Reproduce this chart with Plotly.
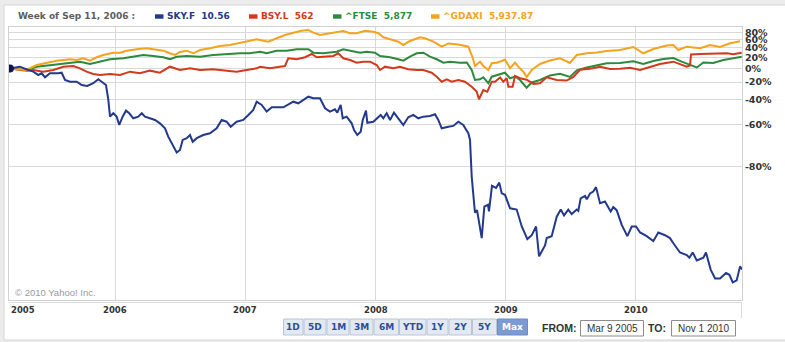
import plotly.graph_objects as go

# ---------------- data (time in decimal years, value = % change since Mar 9 2005) -------------
sky_t = [2005.188, 2005.265, 2005.329, 2005.368, 2005.406, 2005.432, 2005.458, 2005.496, 2005.56, 2005.586,
         2005.612, 2005.65, 2005.702, 2005.74, 2005.783, 2005.829, 2005.868, 2005.894, 2005.927, 2005.945,
         2005.958, 2005.983, 2006.009, 2006.029, 2006.055, 2006.081, 2006.106, 2006.137, 2006.175, 2006.202,
         2006.227, 2006.265, 2006.304, 2006.342, 2006.381, 2006.406, 2006.445, 2006.471, 2006.496, 2006.517,
         2006.548, 2006.573, 2006.594, 2006.625, 2006.675, 2006.727, 2006.778, 2006.817, 2006.855, 2006.886,
         2006.932, 2006.983, 2007.022, 2007.06, 2007.086, 2007.125, 2007.163, 2007.202, 2007.291, 2007.329,
         2007.368, 2007.406, 2007.445, 2007.483, 2007.522, 2007.573, 2007.612, 2007.65, 2007.688, 2007.706,
         2007.732, 2007.748, 2007.778, 2007.817, 2007.835, 2007.86, 2007.886, 2007.902, 2007.927, 2007.937,
         2007.983, 2008.009, 2008.04, 2008.06, 2008.086, 2008.112, 2008.142, 2008.175, 2008.214, 2008.252,
         2008.291, 2008.329, 2008.368, 2008.419, 2008.458, 2008.483, 2008.509, 2008.56, 2008.598, 2008.637,
         2008.675, 2008.714, 2008.727, 2008.74, 2008.765, 2008.781, 2008.817, 2008.837, 2008.865, 2008.873,
         2008.896, 2008.927, 2008.952, 2008.971, 2008.996, 2009.035, 2009.086, 2009.125, 2009.168, 2009.202,
         2009.235, 2009.258, 2009.304, 2009.317, 2009.355, 2009.394, 2009.425, 2009.45, 2009.483, 2009.509,
         2009.548, 2009.56, 2009.578, 2009.612, 2009.625, 2009.65, 2009.675, 2009.696, 2009.727, 2009.765,
         2009.809, 2009.829, 2009.855, 2009.894, 2009.937, 2009.971, 2010.004, 2010.035, 2010.086, 2010.137,
         2010.175, 2010.227, 2010.265, 2010.291, 2010.342, 2010.394, 2010.414, 2010.44, 2010.471, 2010.522,
         2010.542, 2010.578, 2010.612, 2010.65, 2010.696, 2010.722, 2010.748, 2010.778, 2010.804, 2010.819]
sky_pct = [0, 3.0, -2.4, -5.1, -10.1, -7.6, -13.4, -7.6, -7.6, -6.7,
           -17.2, -19.5, -19.5, -23.7, -24.9, -21.5, -16.2, -19.5, -23.7, -40.3,
           -54.6, -52.0, -54.6, -60.4, -54.6, -49.9, -52.0, -55.8, -54.6, -52.0,
           -54.6, -55.8, -57.0, -59.3, -62.5, -67.3, -72.3, -74.8, -73.7, -69.0,
           -68.1, -66.4, -69.9, -68.1, -66.4, -65.4, -62.5, -57.0, -58.2, -61.5,
           -58.2, -57.0, -53.3, -49.3, -42.0, -45.0, -50.7, -47.1, -47.1, -45.0,
           -42.0, -43.5, -40.3, -37.0, -38.6, -38.6, -47.9, -50.7, -48.8, -51.5,
           -45.0, -55.8, -54.6, -59.3, -63.5, -66.4, -64.5, -57.0, -49.9, -58.9,
           -58.2, -55.8, -53.3, -55.8, -52.0, -57.0, -51.5, -55.8, -60.4, -55.1,
           -53.3, -55.8, -54.6, -54.1, -52.8, -57.0, -62.5, -61.5, -61.0, -58.2,
           -60.4, -65.4, -69.0, -83.0, -90.6, -90.2, -93.8, -89.6, -89.3, -90.4,
           -85.4, -85.9, -84.6, -87.1, -87.4, -89.9, -90.1, -92.5, -93.9, -93.5,
           -92.5, -95.4, -94.5, -93.8, -93.6, -91.2, -90.1, -91.0, -90.1, -90.8,
           -90.1, -90.3, -88.1, -87.6, -88.3, -87.1, -86.7, -85.7, -89.0, -88.7,
           -90.4, -89.7, -90.2, -92.3, -93.6, -92.5, -92.5, -93.2, -93.6, -94.1,
           -93.2, -93.5, -93.8, -94.3, -95.1, -95.3, -95.5, -95.1, -95.7, -95.5,
           -95.1, -96.3, -96.8, -96.8, -96.5, -96.6, -97.0, -96.9, -96.1, -96.3]

bsy_t = [2005.188, 2005.317, 2005.368, 2005.445, 2005.522, 2005.598, 2005.675, 2005.727, 2005.778, 2005.829,
         2005.881, 2005.958, 2006.035, 2006.112, 2006.188, 2006.265, 2006.342, 2006.419, 2006.496, 2006.573,
         2006.65, 2006.752, 2006.855, 2006.932, 2007.009, 2007.086, 2007.112, 2007.188, 2007.265, 2007.304,
         2007.329, 2007.394, 2007.458, 2007.509, 2007.548, 2007.598, 2007.675, 2007.714, 2007.752, 2007.804,
         2007.855, 2007.906, 2007.958, 2008.009, 2008.035, 2008.073, 2008.137, 2008.188, 2008.252, 2008.317,
         2008.368, 2008.432, 2008.471, 2008.509, 2008.548, 2008.586, 2008.637, 2008.688, 2008.74, 2008.778,
         2008.796, 2008.829, 2008.86, 2008.894, 2008.919, 2008.958, 2008.983, 2009.009, 2009.022, 2009.055,
         2009.073, 2009.112, 2009.163, 2009.214, 2009.265, 2009.317, 2009.394, 2009.471, 2009.522, 2009.573,
         2009.65, 2009.727, 2009.804, 2009.881, 2009.958, 2010.035, 2010.112, 2010.188, 2010.291, 2010.355,
         2010.394, 2010.419, 2010.427, 2010.496, 2010.598, 2010.702, 2010.752, 2010.817]
bsy_pct = [0, -3.5, -2.4, -5.1, -2.4, 3.0, 4.2, 0.3, -5.1, -8.6,
           -10.1, -8.6, -10.1, -5.1, -7.6, -3.5, -6.7, 3.0, -2.4, 0.3,
           -2.4, -1.3, -3.5, -5.1, -2.4, 0.3, 3.0, 0.3, 3.0, 4.2,
           18.2, 16.3, 20.2, 26.8, 20.2, 21.3, 22.7, 28.3, 18.2, 14.9,
           10.0, 11.8, 11.8, 5.9, -2.4, 3.0, 0.3, 3.0, -1.3, -2.4,
           -2.4, -6.7, -12.6, -19.5, -16.2, -19.5, -17.2, -19.5, -25.8, -31.6,
           -39.6, -29.7, -31.6, -19.5, -19.5, -13.7, -19.5, -14.8, -25.8, -25.8,
           -11.6, -14.8, -16.8, -22.4, -21.5, -13.4, -17.2, -17.9, -13.0, -2.1,
           -0.5, 3.0, -0.8, -0.5, 1.2, -2.4, 3.0, 7.7, 11.8, 5.9,
           3.0, 5.0, 25.8, 26.8, 28.3, 28.3, 26.4, 29.6]

ftse_t = [2005.188, 2005.317, 2005.394, 2005.496, 2005.625, 2005.727, 2005.804, 2005.881, 2005.958, 2006.06,
          2006.137, 2006.214, 2006.291, 2006.368, 2006.419, 2006.471, 2006.548, 2006.65, 2006.752, 2006.855,
          2006.958, 2007.035, 2007.112, 2007.163, 2007.24, 2007.317, 2007.394, 2007.483, 2007.522, 2007.598,
          2007.702, 2007.752, 2007.804, 2007.881, 2007.932, 2007.996, 2008.035, 2008.112, 2008.175, 2008.214,
          2008.265, 2008.317, 2008.368, 2008.419, 2008.471, 2008.522, 2008.573, 2008.65, 2008.702, 2008.74,
          2008.765, 2008.804, 2008.829, 2008.868, 2008.894, 2008.945, 2008.996, 2009.035, 2009.073, 2009.112,
          2009.162, 2009.202, 2009.265, 2009.342, 2009.419, 2009.496, 2009.548, 2009.625, 2009.702, 2009.778,
          2009.881, 2009.983, 2010.06, 2010.137, 2010.214, 2010.291, 2010.355, 2010.419, 2010.471, 2010.522,
          2010.598, 2010.675, 2010.752, 2010.817]
ftse_pct = [0, -2.4, 3.0, 5.9, 10.0, 11.8, 7.7, 11.8, 16.3, 18.2,
            21.3, 24.8, 22.7, 20.2, 16.3, 21.3, 22.7, 21.3, 24.8, 26.8,
            28.3, 28.3, 31.7, 28.3, 33.9, 33.9, 37.0, 37.0, 29.6, 28.3,
            31.7, 37.0, 33.9, 29.6, 31.7, 29.6, 22.7, 20.2, 16.3, 13.6,
            21.3, 28.3, 29.6, 21.3, 16.3, 10.0, 11.8, 10.0, 10.3, -2.4,
            -17.2, -16.2, -13.4, -21.5, -12.6, -10.1, -6.7, -14.8, -12.3, -17.2,
            -27.1, -20.5, -17.2, -10.8, -8.2, -13.0, -2.9, 1.7, 5.0, 8.9,
            9.4, 12.7, 7.7, 13.1, 16.9, 18.8, 11.8, 5.9, 1.7, 10.3,
            9.4, 14.9, 18.2, 21.3]

dax_t = [2005.188, 2005.317, 2005.394, 2005.471, 2005.548, 2005.598, 2005.65, 2005.702, 2005.752, 2005.804,
         2005.855, 2005.906, 2005.983, 2006.035, 2006.086, 2006.163, 2006.24, 2006.291, 2006.368, 2006.419,
         2006.458, 2006.496, 2006.548, 2006.598, 2006.65, 2006.727, 2006.804, 2006.881, 2006.958, 2007.035,
         2007.086, 2007.137, 2007.175, 2007.24, 2007.304, 2007.368, 2007.432, 2007.483, 2007.522, 2007.573,
         2007.65, 2007.702, 2007.752, 2007.804, 2007.855, 2007.919, 2007.983, 2008.022, 2008.06, 2008.112,
         2008.175, 2008.214, 2008.265, 2008.342, 2008.381, 2008.445, 2008.509, 2008.56, 2008.637, 2008.714,
         2008.748, 2008.765, 2008.804, 2008.829, 2008.868, 2008.894, 2008.932, 2008.971, 2008.996, 2009.035,
         2009.073, 2009.098, 2009.137, 2009.163, 2009.202, 2009.265, 2009.342, 2009.419, 2009.496, 2009.548,
         2009.625, 2009.702, 2009.778, 2009.881, 2009.983, 2010.06, 2010.137, 2010.24, 2010.291, 2010.329,
         2010.394, 2010.496, 2010.573, 2010.65, 2010.727, 2010.804]
dax_pct = [0, -2.4, 5.9, 10.0, 13.6, 14.9, 16.3, 14.9, 18.2, 13.6,
           20.2, 24.8, 29.6, 29.6, 33.9, 37.0, 39.3, 37.0, 33.9, 28.3,
           24.8, 31.1, 33.9, 28.3, 35.4, 39.3, 44.6, 47.0, 52.7, 58.2,
           61.4, 57.7, 55.2, 64.1, 73.2, 79.8, 85.8, 88.0, 79.8, 73.2,
           78.1, 82.8, 84.9, 78.1, 78.1, 85.8, 82.8, 78.1, 66.8, 61.4,
           55.2, 47.0, 57.0, 66.8, 64.1, 55.2, 43.0, 50.7, 48.2, 43.0,
           18.8, 4.2, 11.8, 4.2, -2.4, 8.9, 10.0, 13.1, 15.9, 0.3,
           10.0, 3.0, -5.1, -13.0, -2.4, 7.7, 14.0, 18.2, 9.4, 24.8,
           28.3, 30.0, 33.2, 35.4, 42.3, 28.3, 37.7, 45.8, 47.0, 35.4,
           43.0, 39.3, 47.0, 42.3, 51.2, 56.4]

series_names = ["SKY.F", "BSY.L", "^FTSE", "^GDAXI"]
series_quotes = ["10.56", "562", "5,877", "5,937.87"]
series_colors = ["#22398c", "#d23a1c", "#2d8a3c", "#f5a21d"]
header_text = "Week of Sep 11, 2006 :"

y_tick_vals = [-80, -60, -40, -20, 0, 20, 40, 60, 80]
x_tick_years = [2006, 2007, 2008, 2009, 2010]
start_label = "2005"
x_range = [2005.181, 2010.819]
range_buttons = ["1D", "5D", "1M", "3M", "6M", "YTD", "1Y", "2Y", "5Y", "Max"]
from_date = "Mar 9 2005"
to_date = "Nov 1 2010"
copyright_text = "© 2010 Yahoo! Inc."

# ---------------- layout helpers (pixel -> paper) ----------------
W, H = 785, 342
ML, MR, MT, MB = 9, 43, 27, 42
PW, PH = W - ML - MR, H - MT - MB


def px(x):
    return (x - ML) / PW


def py(y):
    return (H - MB - y) / PH


def ratio(vals):
    return [1 + v / 100.0 for v in vals]


FONT = "DejaVu Sans"

fig = go.Figure()

order = [(ftse_t, ftse_pct, 2), (bsy_t, bsy_pct, 1), (dax_t, dax_pct, 3), (sky_t, sky_pct, 0)]
for t, v, i in order:
    fig.add_trace(go.Scatter(x=t, y=ratio(v), mode="lines",
                             line=dict(color=series_colors[i], width=2),
                             name=series_names[i], hoverinfo="skip"))

fig.add_trace(go.Scatter(x=[sky_t[0]], y=ratio([sky_pct[0]]), mode="markers",
                         marker=dict(color="#0b1657", size=8), hoverinfo="skip"))

shapes = []
annotations = []

# outer white panel
shapes.append(dict(type="rect", xref="paper", yref="paper", x0=px(4), x1=px(800), y0=py(340), y1=py(5),
                   fillcolor="white", line=dict(color="#d6d6d6", width=1), layer="below"))

# axis label band
shapes.append(dict(type="line", xref="paper", yref="paper", x0=px(9), x1=px(742), y0=py(302.5), y1=py(302.5),
                   line=dict(color="#dcdcdc", width=1)))
shapes.append(dict(type="line", xref="paper", yref="paper", x0=px(741.5), x1=px(741.5), y0=py(302.5), y1=py(318),
                   line=dict(color="#dcdcdc", width=1)))

# header legend
annotations.append(dict(xref="paper", yref="paper", x=px(16), y=py(16), xanchor="left", yanchor="middle",
                        text="<b>" + header_text + "</b>", showarrow=False,
                        font=dict(family=FONT, size=9, color="#5e5e5e")))
legend_x = [155, 249, 333, 431]
for i, lx in enumerate(legend_x):
    shapes.append(dict(type="rect", xref="paper", yref="paper", x0=px(lx), x1=px(lx + 8.5),
                       y0=py(18.7), y1=py(14.3), fillcolor=series_colors[i], line=dict(width=0)))
    annotations.append(dict(xref="paper", yref="paper", x=px(lx + 10), y=py(16), xanchor="left",
                            yanchor="middle", showarrow=False,
                            text="<b>" + series_names[i] + "\u00a0\u00a0" + series_quotes[i] + "</b>",
                            font=dict(family=FONT, size=9, color=series_colors[i])))

# year labels
annotations.append(dict(xref="x", yref="paper", x=x_range[0], y=py(310), xanchor="left", yanchor="middle",
                        text="<b>" + start_label + "</b>", showarrow=False,
                        font=dict(family=FONT, size=8.5, color="#333333")))
for yr in x_tick_years:
    annotations.append(dict(xref="x", yref="paper", x=yr, y=py(310), xanchor="center", yanchor="middle",
                            text="<b>" + str(yr) + "</b>", showarrow=False,
                            font=dict(family=FONT, size=8.5, color="#333333")))

# copyright
annotations.append(dict(xref="paper", yref="paper", x=px(13), y=py(292.5), xanchor="left", yanchor="middle",
                        text=copyright_text, showarrow=False,
                        font=dict(family="Liberation Sans", size=9.5, color="#9a9a9a")))

# range buttons
edges = [283, 303.5, 326.5, 349.5, 373.5, 399, 426.5, 448.5, 472, 497, 528]
for i, lab in enumerate(range_buttons):
    active = lab == "Max"
    shapes.append(dict(type="rect", xref="paper", yref="paper", x0=px(edges[i] + 0.5), x1=px(edges[i + 1] - 0.5),
                       y0=py(335), y1=py(319),
                       fillcolor="#7b9bd2" if active else "#e4e9f1",
                       line=dict(color="#b9c4d6" if not active else "#6d8cc4", width=1)))
    annotations.append(dict(xref="paper", yref="paper", x=px((edges[i] + edges[i + 1]) / 2), y=py(327.3),
                            xanchor="center", yanchor="middle", showarrow=False,
                            text="<b>" + lab + "</b>",
                            font=dict(family=FONT, size=9, color="white" if active else "#2c4e96")))

# from / to boxes
annotations.append(dict(xref="paper", yref="paper", x=px(578), y=py(328), xanchor="right", yanchor="middle",
                        showarrow=False, text="<b>FROM:</b>",
                        font=dict(family="Liberation Sans", size=10.5, color="#333333")))
shapes.append(dict(type="rect", xref="paper", yref="paper", x0=px(580.5), x1=px(643.5), y0=py(336), y1=py(320.5),
                   fillcolor="white", line=dict(color="#8c8c8c", width=1)))
annotations.append(dict(xref="paper", yref="paper", x=px(612), y=py(328.3), xanchor="center", yanchor="middle",
                        showarrow=False, text=from_date,
                        font=dict(family="Liberation Sans", size=10, color="#333333")))
annotations.append(dict(xref="paper", yref="paper", x=px(668), y=py(328), xanchor="right", yanchor="middle",
                        showarrow=False, text="<b>TO:</b>",
                        font=dict(family="Liberation Sans", size=10.5, color="#333333")))
shapes.append(dict(type="rect", xref="paper", yref="paper", x0=px(671.5), x1=px(735.5), y0=py(336), y1=py(320.5),
                   fillcolor="white", line=dict(color="#8c8c8c", width=1)))
annotations.append(dict(xref="paper", yref="paper", x=px(703.5), y=py(328.3), xanchor="center", yanchor="middle",
                        showarrow=False, text=to_date,
                        font=dict(family="Liberation Sans", size=10, color="#333333")))

fig.update_layout(
    width=W, height=H,
    margin=dict(l=ML, r=MR, t=MT, b=MB, pad=0),
    paper_bgcolor="#ececec",
    plot_bgcolor="white",
    showlegend=False,
    shapes=shapes,
    annotations=annotations,
    xaxis=dict(range=x_range, tickmode="array", tickvals=x_tick_years, showticklabels=False,
               showgrid=True, gridcolor="#d9d9d9", gridwidth=1, zeroline=False,
               showline=True, linecolor="#d0d0d0", linewidth=1, mirror=True, ticks=""),
    yaxis=dict(type="log", range=[-1.6482, 0.2953], side="right", tickmode="array",
               tickvals=ratio(y_tick_vals), ticktext=["<b>%d%%</b>" % v for v in y_tick_vals],
               tickfont=dict(family=FONT, size=9.5, color="#333333"),
               showgrid=True, gridcolor="#d9d9d9", gridwidth=1, zeroline=False,
               showline=True, linecolor="#d0d0d0", linewidth=1, mirror=True, ticks=""),
)

fig.write_html("out.html", config={"displayModeBar": False})
